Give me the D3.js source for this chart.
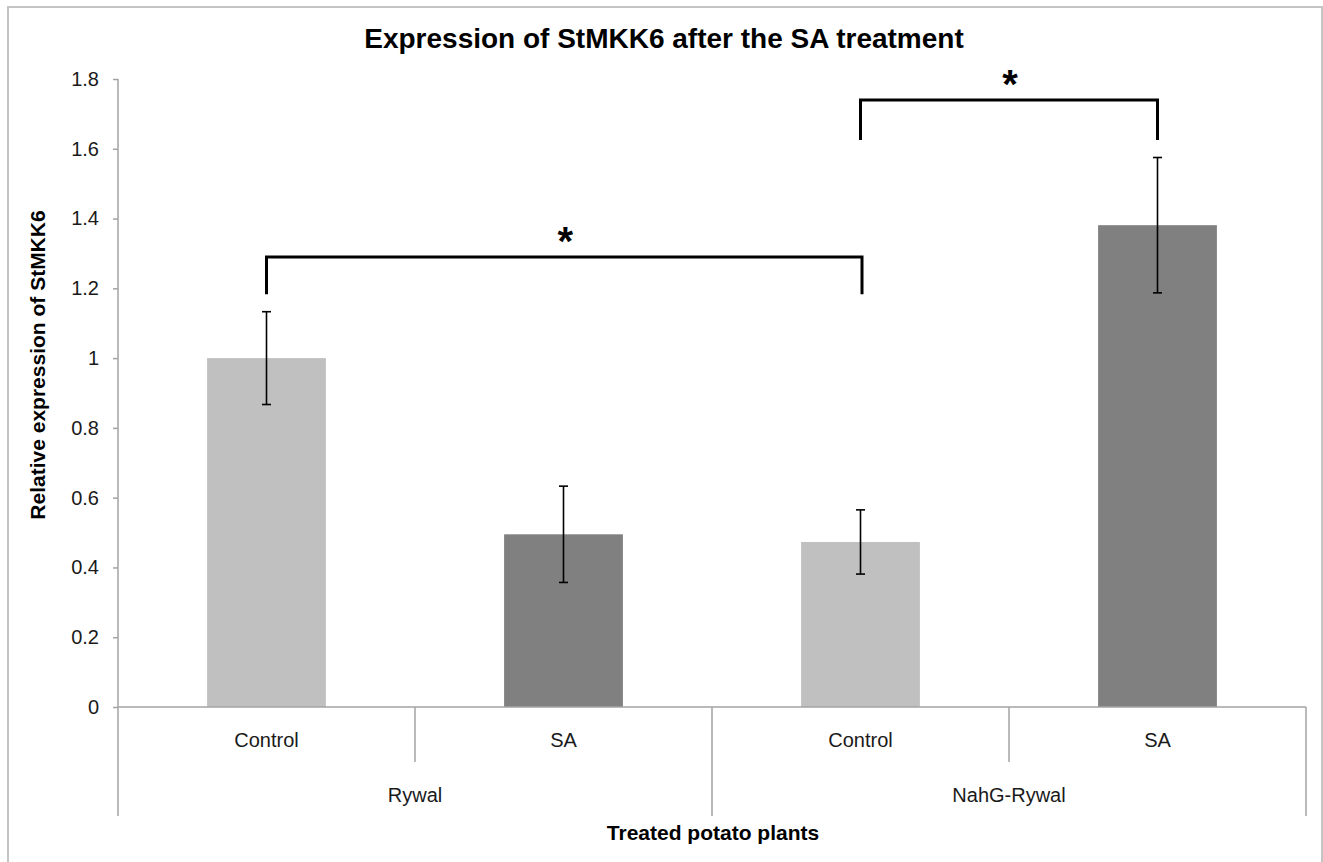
<!DOCTYPE html>
<html>
<head>
<meta charset="utf-8">
<script src="https://cdn.jsdelivr.net/npm/d3@7"></script>
<style>
  body { margin: 0; background: #fff; }
  text { font-family: "Liberation Sans", Arial, sans-serif; }
</style>
</head>
<body>
<script>
const width = 1323;
const height = 862;

// data
const groups = ["Rywal", "NahG-Rywal"];
const treatments = ["Control", "SA", "Control", "SA"];
const barGroup = [0, 0, 1, 1];
const values = [1.0, 0.495, 0.473, 1.381];
const errors = [0.133, 0.138, 0.092, 0.194];
const yTicks = [0, 0.2, 0.4, 0.6, 0.8, 1, 1.2, 1.4, 1.6, 1.8];
// significance brackets: bar index from/to, top level and leg end level
const bracketFrom = [0, 2];
const bracketTo = [2, 3];
const bracketTop = [1.29, 1.74];
const bracketLeg = [1.183, 1.625];

const margin = {top: 79, left: 118, right: 17, bottom: 155};

const bars = values.map((v, i) => ({
    key: i, label: treatments[i], group: barGroup[i], value: v, err: errors[i]
}));

const svg = d3.select("body").append("svg")
    .attr("width", width)
    .attr("height", height);

// outer frame
svg.append("rect")
    .attr("x", 8).attr("y", 7)
    .attr("width", 1314).attr("height", 870)
    .attr("fill", "none")
    .attr("stroke", "#c4c4c4")
    .attr("stroke-width", 2);

const x = d3.scaleBand()
    .domain(bars.map(d => d.key))
    .range([margin.left, width - margin.right])
    .paddingInner(0);

const y = d3.scaleLinear()
    .domain([0, 1.8])
    .range([height - margin.bottom, margin.top]);

const axisColor = "#a3a3a3";

// y axis
const yAxis = svg.append("g")
    .attr("transform", `translate(${margin.left},0)`)
    .call(d3.axisLeft(y).tickValues(yTicks).tickSize(5).tickPadding(14)
        .tickFormat(d => String(+d.toFixed(1))));
yAxis.select(".domain").remove();
yAxis.selectAll(".tick line").attr("stroke", axisColor).attr("stroke-width", 1.5);
yAxis.selectAll(".tick text")
    .attr("fill", "#1a1a1a")
    .style("font-size", "20px");

const y0 = y(0);
const longDrop = 109, shortDrop = 55;

// y axis line goes below zero down to the group row
svg.append("line")
    .attr("x1", margin.left).attr("x2", margin.left)
    .attr("y1", y(1.8)).attr("y2", y0 + longDrop)
    .attr("stroke", axisColor).attr("stroke-width", 1.5);

// bars
const barW = x.bandwidth() * 0.4;
svg.append("g")
    .selectAll("rect")
    .data(bars)
    .join("rect")
    .attr("x", d => x(d.key) + (x.bandwidth() - barW) / 2)
    .attr("y", d => y(d.value))
    .attr("width", barW)
    .attr("height", d => y0 - y(d.value))
    .attr("fill", d => d.label === "Control" ? "#c0c0c0" : "#808080");

// x axis line
svg.append("line")
    .attr("x1", margin.left).attr("x2", width - margin.right)
    .attr("y1", y0).attr("y2", y0)
    .attr("stroke", axisColor).attr("stroke-width", 1.5);

// category separators
const edges = d3.range(1, bars.length + 1).map(i => ({
    x: margin.left + i * x.step(),
    long: i % 2 === 0
}));
svg.append("g")
    .selectAll("line")
    .data(edges)
    .join("line")
    .attr("x1", d => d.x).attr("x2", d => d.x)
    .attr("y1", y0)
    .attr("y2", d => y0 + (d.long ? longDrop : shortDrop))
    .attr("stroke", axisColor)
    .attr("stroke-width", 1.5);

// category labels
svg.append("g")
    .selectAll("text")
    .data(bars)
    .join("text")
    .attr("x", d => x(d.key) + x.bandwidth() / 2)
    .attr("y", y0 + 40)
    .attr("text-anchor", "middle")
    .attr("fill", "#1a1a1a")
    .style("font-size", "20px")
    .text(d => d.label);

// group labels
svg.append("g")
    .selectAll("text")
    .data(groups)
    .join("text")
    .attr("x", (d, i) => margin.left + (2 * i + 1) * x.step())
    .attr("y", y0 + 95)
    .attr("text-anchor", "middle")
    .attr("fill", "#1a1a1a")
    .style("font-size", "20px")
    .text(d => d);

// error bars
const cx = d => x(d.key) + x.bandwidth() / 2;
const err = svg.append("g")
    .attr("stroke", "#000")
    .attr("stroke-width", 1.6)
    .selectAll("g")
    .data(bars)
    .join("g");
err.append("line")
    .attr("x1", cx).attr("x2", cx)
    .attr("y1", d => y(d.value + d.err))
    .attr("y2", d => y(d.value - d.err));
err.append("line")
    .attr("x1", d => cx(d) - 4.5).attr("x2", d => cx(d) + 4.5)
    .attr("y1", d => y(d.value + d.err)).attr("y2", d => y(d.value + d.err));
err.append("line")
    .attr("x1", d => cx(d) - 4.5).attr("x2", d => cx(d) + 4.5)
    .attr("y1", d => y(d.value - d.err)).attr("y2", d => y(d.value - d.err));

// significance brackets
const brackets = bracketFrom.map((f, i) => ({
    x1: cx(bars[f]), x2: cx(bars[bracketTo[i]]) + (i === 0 ? 1.5 : 0),
    top: bracketTop[i], leg: bracketLeg[i]
}));
svg.append("g")
    .selectAll("path")
    .data(brackets)
    .join("path")
    .attr("d", d => `M${d.x1},${y(d.leg)}V${y(d.top)}H${d.x2}V${y(d.leg)}`)
    .attr("fill", "none")
    .attr("stroke", "#000")
    .attr("stroke-width", 3);
svg.append("g")
    .selectAll("text")
    .data(brackets)
    .join("text")
    .attr("x", d => (d.x1 + d.x2) / 2 + 1)
    .attr("y", d => y(d.top) - 2)
    .attr("text-anchor", "middle")
    .style("font-size", "40px")
    .style("font-weight", "bold")
    .text("*");

// titles
svg.append("text")
    .attr("x", 664)
    .attr("y", 48)
    .attr("text-anchor", "middle")
    .style("font-size", "28px")
    .style("font-weight", "bold")
    .text("Expression of StMKK6 after the SA treatment");

svg.append("text")
    .attr("transform", "translate(45,365) rotate(-90)")
    .attr("text-anchor", "middle")
    .style("font-size", "21px")
    .style("font-weight", "bold")
    .text("Relative expression of StMKK6");

svg.append("text")
    .attr("x", 713)
    .attr("y", 840)
    .attr("text-anchor", "middle")
    .style("font-size", "21px")
    .style("font-weight", "bold")
    .text("Treated potato plants");
</script>
</body>
</html>
